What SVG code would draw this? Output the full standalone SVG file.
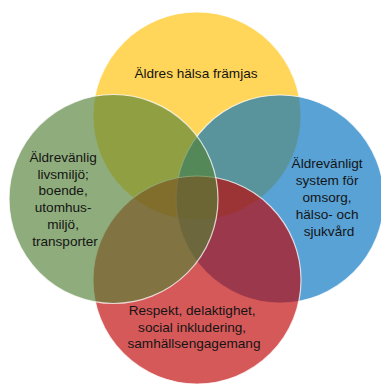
<svg xmlns="http://www.w3.org/2000/svg" width="381" height="385" viewBox="0 0 381 385">
  <style>
    .c { fill-opacity: 0.65; stroke: #ffffff; stroke-opacity: 0.75; stroke-width: 1.2; }
    .t { font-family: "Liberation Sans", Arial, sans-serif; font-size: 13.6px; fill: #141414; text-anchor: middle; }
  </style>
  <rect width="381" height="385" fill="#ffffff"/>
  <g id="yellow">
    <circle class="c" cx="197" cy="116" r="104" fill="#FFC000"/>
    <text class="t" x="196" y="78">Äldres hälsa främjas</text>
  </g>
  <g id="blue">
    <circle class="c" cx="280" cy="199" r="104" fill="#0070C0"/>
    <text class="t">
      <tspan x="329" y="168.3">Äldrevänligt</tspan>
      <tspan x="329" y="185.2">system för</tspan>
      <tspan x="329" y="202">omsorg,</tspan>
      <tspan x="329" y="218.9">hälso- och</tspan>
      <tspan x="329" y="235.7">sjukvård</tspan>
    </text>
  </g>
  <g id="red">
    <circle class="c" cx="197" cy="280" r="104" fill="#C00000"/>
    <text class="t">
      <tspan x="194" y="315">Respekt, delaktighet,</tspan>
      <tspan x="194" y="331.7">social inkludering,</tspan>
      <tspan x="194" y="348.4">samhällsengagemang</tspan>
    </text>
  </g>
  <g id="green">
    <circle class="c" cx="113.5" cy="199" r="104.5" fill="#538135"/>
    <text class="t">
      <tspan x="65" y="161.7">Äldrevänlig</tspan>
      <tspan x="65" y="178.5">livsmiljö;</tspan>
      <tspan x="65" y="195.3">boende,</tspan>
      <tspan x="65" y="212.1">utomhus-</tspan>
      <tspan x="65" y="228.9">miljö,</tspan>
      <tspan x="65" y="245.7">transporter</tspan>
    </text>
  </g>
  <g id="connectors"/>
</svg>
